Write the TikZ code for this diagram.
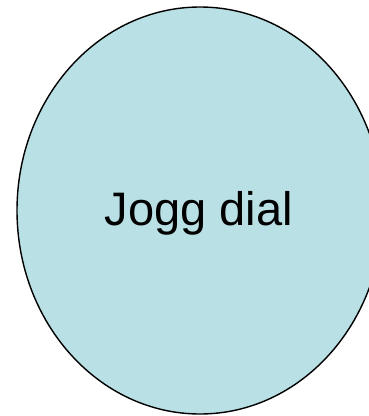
\documentclass[tikz,border=0pt]{standalone}
\usepackage{fontspec}
\setmainfont{Liberation Sans}
\usetikzlibrary{shapes.geometric}
\definecolor{dialblue}{RGB}{185,224,228}
\begin{document}
\begin{tikzpicture}[
		dial/.style={ellipse, draw=black, line width=1.4pt, fill=dialblue, inner sep=0pt,
			minimum width=366pt, minimum height=407pt},
		dialtext/.style={font=\fontsize{47}{53}\selectfont}
		]
		
		% Frame of the picture
		\useasboundingbox (0, 0) rectangle (369pt, -416pt);
		\clip (0, 0) rectangle (369pt, -416pt);
		
		% Draw the dial
		\node[dial] (dial) at (200pt, -210.5pt) {};
		\node[dialtext] (label) at (199pt, -213pt) {Jogg dial};
		
	\end{tikzpicture}
\end{document}
